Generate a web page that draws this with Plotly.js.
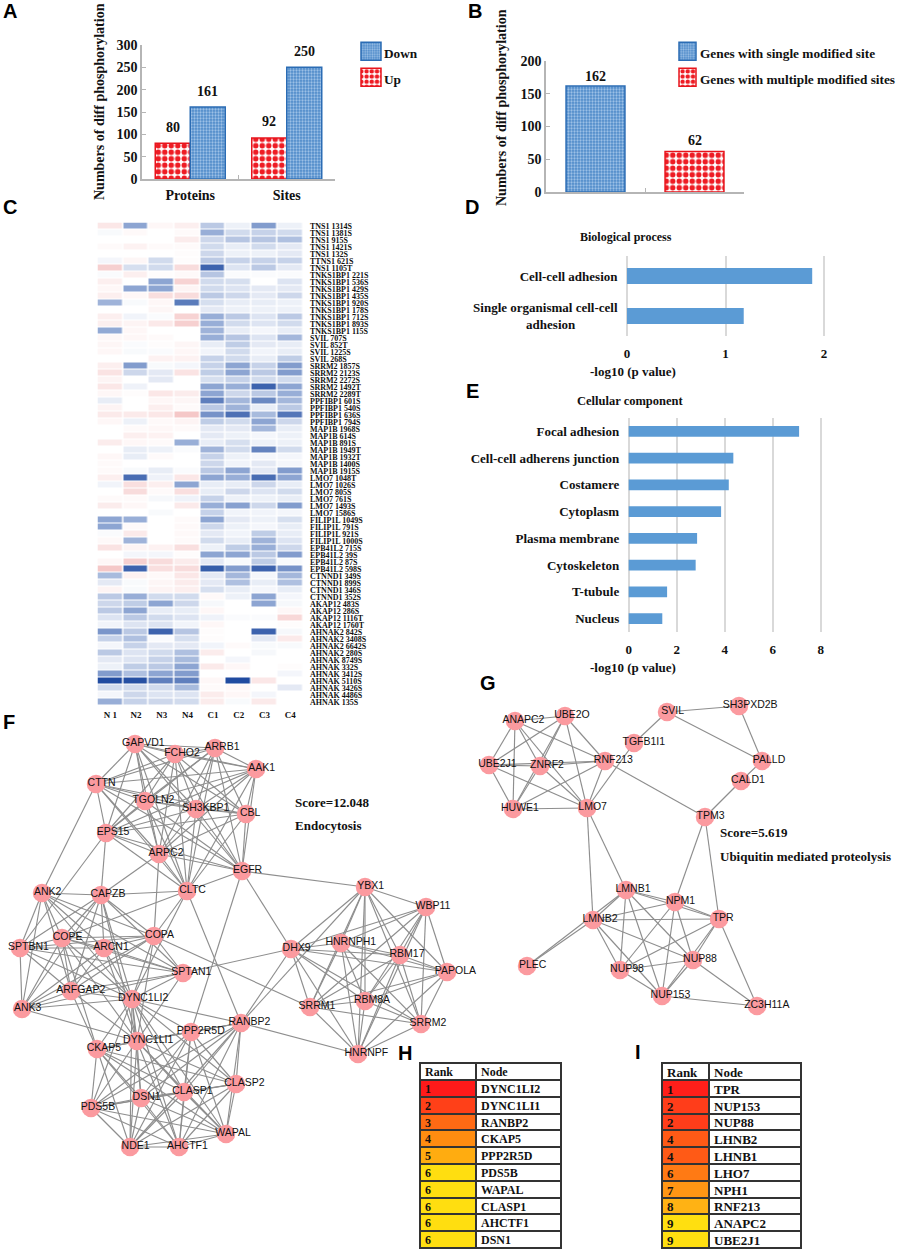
<!DOCTYPE html>
<html><head><meta charset="utf-8">
<script src="https://cdn.plot.ly/plotly-3.0.1.min.js"></script>
<style>html,body{margin:0;padding:0;background:#fff}.cell-text{transform:translate(-3px,-4px)}</style></head>
<body><div id="chart" style="width:899px;height:1256px"></div>
<script>
const W=899,H=1256;
// ---------- Panel A / B
const aCategories=['Proteins','Sites'];
const aUp=[80,92];
const aDown=[161,250];
const bCategories=['Single','Multiple'];
const bSingle=[162];
const bMultiple=[62];
// ---------- Panel D / E
const dTerms=['Cell-cell adhesion','Single organismal cell-cell<br>adhesion\u00A0\u00A0\u00A0\u00A0\u00A0\u00A0\u00A0\u00A0\u00A0\u00A0\u00A0\u00A0\u00A0'];
const dValues=[1.88,1.185];
const eTerms=['Focal adhesion','Cell-cell adherens junction','Costamere','Cytoplasm','Plasma membrane','Cytoskeleton','T-tubule','Nucleus'];
const eValues=[7.1,4.36,4.17,3.85,2.85,2.79,1.6,1.4];
// ---------- Panel C
const heatColumns=['N 1','N2','N3','N4','C1','C2','C3','C4'];
const heatRows=['TNS1 1314S','TNS1 1381S','TNS1 915S','TNS1 1421S','TNS1 132S','TTNS1 621S','TNS1 1105T','TNKS1BP1 221S','TNKS1BP1 536S','TNKS1BP1 429S','TNKS1BP1 435S','TNKS1BP1 920S','TNKS1BP1 178S','TNKS1BP1 712S','TNKS1BP1 893S','TNKS1BP1 115S','SVIL 707S','SVIL 852T','SVIL 1225S','SVIL 268S','SRRM2 1857S','SRRM2 2123S','SRRM2 2272S','SRRM2 1492T','SRRM2 2289T','PPFIBP1 601S','PPFIBP1 540S','PPFIBP1 636S','PPFIBP1 794S','MAP1B 1968S','MAP1B 614S','MAP1B 891S','MAP1B 1949T','MAP1B 1932T','MAP1B 1400S','MAP1B 1915S','LMO7 1048T','LMO7 1026S','LMO7 805S','LMO7 761S','LMO7 1493S','LMO7 1586S','FILIP1L 1049S','FILIP1L 791S','FILIP1L 921S','FILIP1L 1000S','EPB41L2 715S','EPB41L2 39S','EPB41L2 87S','EPB41L2 598S','CTNND1 349S','CTNND1 899S','CTNND1 346S','CTNND1 352S','AKAP12 483S','AKAP12 286S','AKAP12 1116T','AKAP12 1760T','AHNAK2 842S','AHNAK2 3408S','AHNAK2 6642S','AHNAK2 280S','AHNAK 8749S','AHNAK 332S','AHNAK 3412S','AHNAK 5110S','AHNAK 3426S','AHNAK 4486S','AHNAK 135S'];
const heatValues=[
[0.15,-0.5,0.05,0.1,-0.3,-0.08,-0.55,-0.08],
[-0.03,0.04,0,0.03,-0.45,-0.2,-0.25,-0.2],
[0,0,0,0.12,-0.22,-0.32,-0.32,-0.35],
[0.03,0.08,0.03,0.03,-0.2,-0.1,-0.2,-0.12],
[0,0,0,0.02,-0.22,-0.08,-0.08,-0.12],
[-0.05,0.06,-0.2,0.02,-0.3,-0.25,-0.25,-0.25],
[0.3,-0.18,-0.2,0.22,-0.85,-0.15,-0.3,-0.12],
[-0.02,0.1,0.02,0.04,-0.32,-0.02,-0.02,-0.02],
[0.1,0,-0.5,0.28,-0.2,-0.18,0,-0.15],
[0.05,-0.5,-0.5,0.07,-0.2,-0.15,-0.12,-0.12],
[0.1,0.05,0.2,0.22,-0.3,-0.22,-0.12,-0.22],
[-0.42,-0.03,0.05,-0.72,-0.18,-0.1,-0.1,-0.08],
[0,0,0.06,0,-0.12,-0.08,-0.08,-0.08],
[0.1,-0.06,-0.02,0.28,-0.45,-0.3,-0.15,-0.3],
[0.1,0.07,0.14,0.3,-0.45,-0.2,-0.15,-0.2],
[-0.48,0.05,0,0,-0.42,-0.1,-0.05,-0.1],
[0.05,0.05,0.03,0,-0.45,-0.32,-0.15,-0.4],
[0.06,-0.02,0.02,0.06,-0.1,-0.28,-0.12,-0.1],
[0.05,-0.03,-0.02,0.05,-0.06,-0.2,-0.06,-0.1],
[0,0,0.08,0.08,-0.25,-0.2,-0.1,-0.28],
[0.1,-0.55,-0.03,-0.05,-0.25,-0.5,-0.25,-0.55],
[0.18,-0.22,-0.12,0.18,-0.28,-0.5,-0.3,-0.55],
[0.07,0,-0.12,0,-0.18,-0.25,-0.2,-0.2],
[0.15,-0.07,0,0,-0.5,-0.45,-0.85,-0.5],
[0.05,0.02,0.15,0.12,-0.5,-0.22,-0.3,-0.45],
[-0.1,0,0.05,0.06,-0.7,-0.4,-0.65,-0.4],
[0.07,0,0.1,0.03,-0.3,-0.42,-0.1,-0.3],
[0.13,0.13,0.15,0.35,-0.6,-0.78,-0.38,-0.75],
[0.05,-0.08,0.04,0.07,-0.28,-0.2,-0.5,-0.22],
[0,0.03,0.05,0.03,-0.12,-0.12,-0.4,-0.1],
[0,0.1,0.08,0,-0.12,-0.08,-0.05,-0.08],
[0.12,0.05,0.03,-0.45,-0.1,-0.18,-0.08,-0.08],
[0,-0.1,-0.08,-0.02,-0.42,-0.2,-0.68,-0.2],
[0.05,-0.1,0.03,0,-0.25,-0.08,-0.05,-0.05],
[0.03,0,0,0,-0.22,-0.06,-0.12,-0.05],
[0.03,-0.03,-0.1,-0.02,-0.3,-0.5,-0.12,-0.55],
[0.1,-0.8,-0.07,0.15,-0.5,-0.45,-0.8,-0.5],
[-0.06,0.2,0.1,-0.5,-0.1,-0.1,-0.22,-0.1],
[0,0.22,0.03,0.2,-0.1,-0.22,-0.15,-0.2],
[0.03,0.03,-0.04,-0.07,-0.25,-0.08,-0.08,-0.1],
[0.12,0.05,0,0.13,-0.45,-0.52,-0.22,-0.55],
[0,0,-0.03,0,-0.25,-0.06,-0.06,-0.05],
[-0.5,-0.45,0,0.03,-0.5,-0.12,-0.08,-0.18],
[-0.5,0.03,0,0.04,-0.22,-0.08,-0.05,-0.1],
[-0.02,0.13,0,0.04,-0.12,-0.06,-0.28,-0.1],
[0.04,-0.42,0,0.03,-0.2,-0.1,-0.42,-0.15],
[0.18,0.07,0.08,0.2,-0.08,-0.28,-0.45,-0.22],
[0,-0.05,-0.05,0.02,-0.5,-0.5,-0.3,-0.55],
[0.05,0.3,0.22,0.12,-0.12,-0.03,-0.28,-0.03],
[0.35,-0.85,0.2,0.22,-0.88,-0.55,-0.85,-0.6],
[-0.38,0.08,0.04,0.15,-0.12,-0.4,-0.05,-0.4],
[-0.12,-0.03,0.06,0.12,-0.12,-0.35,-0.1,-0.35],
[0.07,-0.03,0.07,0.1,-0.18,-0.1,-0.05,-0.1],
[-0.3,-0.45,-0.2,-0.2,0.04,-0.08,-0.5,-0.05],
[-0.22,-0.28,-0.5,-0.22,-0.04,0,-0.5,-0.04],
[-0.3,-0.5,-0.1,-0.1,0.05,0,0,0.05],
[-0.15,-0.3,-0.2,-0.15,-0.07,-0.02,-0.02,0.25],
[-0.06,-0.15,-0.15,-0.06,0.05,0,0,0.02],
[-0.58,-0.3,-0.85,-0.32,0.02,0,-0.85,-0.04],
[-0.25,-0.35,-0.02,-0.18,0.02,0,-0.12,0.13],
[-0.05,-0.25,-0.12,-0.12,-0.06,0.03,-0.03,-0.03],
[-0.3,-0.15,-0.2,-0.35,0.12,0,-0.04,0],
[-0.12,-0.15,-0.25,-0.38,0,-0.05,0,0],
[-0.08,-0.28,-0.3,-0.5,0.13,0.05,0,0.02],
[-0.55,-0.35,-0.5,-0.55,0,0,0,-0.05],
[-0.98,-0.95,-0.7,-0.7,0.05,-0.98,0.15,0],
[-0.2,-0.2,-0.2,-0.38,0.03,0.05,0,-0.12],
[-0.05,-0.22,-0.15,-0.15,0.12,0.05,-0.05,0],
[-0.45,-0.25,-0.22,-0.2,0.12,-0.03,0.13,0]
];
// ---------- Panel F network
const fNames=['GAPVD1','FCHO2','ARRB1','AAK1','CTTN','TGOLN2','SH3KBP1','CBL','EPS15','ARPC2','EGFR','CLTC','ANK2','CAPZB','COPE','COPA','ARCN1','SPTBN1','SPTAN1','ARFGAP2','DYNC1LI2','ANK3','PPP2R5D','RANBP2','DYNC1LI1','CKAP5','CLASP2','CLASP1','DSN1','PDS5B','WAPAL','AHCTF1','NDE1','YBX1','WBP11','DHX9','HNRNPH1','RBM17','PAPOLA','RBM8A','SRRM1','SRRM2','HNRNPF'];
const fX=[135,175,215,256,96,145,196,246,106,159,242,187,42,101,62,154,104,20,183,71,132,22,191,241,137,97,236,184,141,91,226,179,130,365,426,291,341,400,447,365,310,421,358];
const fY=[744,754,748,769,784,801,809,814,833,854,871,891,893,895,938,936,948,948,973,991,999,1009,1032,1023,1041,1049,1084,1092,1098,1108,1134,1147,1147,887,907,949,943,955,972,1001,1007,1024,1054];
const fGroups=[
['GAPVD1','FCHO2','ARRB1','AAK1','CTTN','TGOLN2','SH3KBP1','CBL','EPS15','ARPC2','EGFR','CLTC'],
['ANK2','CAPZB','COPE','COPA','ARCN1','SPTBN1','SPTAN1','ARFGAP2','DYNC1LI2','ANK3'],
['DYNC1LI2','DYNC1LI1','PPP2R5D','RANBP2','CKAP5','CLASP2','CLASP1','DSN1','PDS5B','WAPAL','AHCTF1','NDE1'],
['YBX1','WBP11','DHX9','HNRNPH1','RBM17','PAPOLA','RBM8A','SRRM1','SRRM2','HNRNPF']
];
const fExtra=[['CTTN','ANK2'],['EPS15','CAPZB'],['EPS15','SPTBN1'],['ARPC2','CAPZB'],['ARPC2','COPA'],['CLTC','COPE'],['CLTC','COPA'],['CLTC','CAPZB'],['CLTC','DYNC1LI2'],['CLTC','RANBP2'],['EGFR','YBX1'],['EGFR','DHX9'],['EGFR','PPP2R5D'],['COPA','SRRM1'],['SPTAN1','DHX9'],['DHX9','RANBP2'],['RANBP2','HNRNPF'],['YBX1','RANBP2'],['ANK3','DYNC1LI1'],['COPE','DYNC1LI1'],['ARCN1','DYNC1LI1'],['COPA','DYNC1LI1'],['SPTAN1','DYNC1LI1'],['ARFGAP2','DYNC1LI1'],['CAPZB','DYNC1LI1'],['ARFGAP2','CKAP5'],['COPE','CKAP5']];
// ---------- Panel G network
const gNames=['ANAPC2','UBE2O','SVIL','SH3PXD2B','TGFB1I1','UBE2J1','ZNRF2','RNF213','PALLD','CALD1','HUWE1','LMO7','TPM3','LMNB1','NPM1','TPR','LMNB2','NUP88','NUP98','PLEC','NUP153','ZC3H11A'];
const gX=[515,565,667,739,634,489,540,605,762,741,513,587,705,626,675,719,593,693,620,527,662,757];
const gY=[721,716,712,706,743,765,766,761,761,781,809,808,817,890,902,919,920,960,970,966,996,1006];
const gGroups=[
['ANAPC2','UBE2O','UBE2J1','ZNRF2','RNF213','HUWE1','LMO7'],
['LMNB1','NPM1','TPR','LMNB2','NUP88','NUP98','NUP153']
];
const gExtra=[['TGFB1I1','SVIL'],['TGFB1I1','LMO7'],['SVIL','SH3PXD2B'],['SVIL','PALLD'],['SH3PXD2B','PALLD'],['PALLD','CALD1'],['CALD1','TPM3'],['RNF213','TPM3'],['TPM3','NPM1'],['TPM3','TPR'],['LMO7','LMNB1'],['LMO7','LMNB2'],['LMNB2','PLEC'],['LMNB1','PLEC'],['TPR','ZC3H11A'],['NUP88','ZC3H11A'],['NUP153','ZC3H11A']];
// ---------- Panel H / I tables
const hRanks=['1','2','3','4','5','6','6','6','6','6'];
const hNodes=['DYNC1LI2','DYNC1LI1','RANBP2','CKAP5','PPP2R5D','PDS5B','WAPAL','CLASP1','AHCTF1','DSN1'];
const hColors=['#ff1a1a','#ff4018','#ff6a14','#ff8c10','#ffac10','#ffde10','#ffde10','#ffde10','#ffde10','#ffde10'];
const iRanks=['1','2','2','4','4','6','7','8','9','9'];
const iNodes=['TPR','NUP153','NUP88','LHNB2','LHNB1','LHO7','NPH1','RNF213','ANAPC2','UBE2J1'];
const iColors=['#ff1f1a','#ff3d1a','#ff3d1a','#ff5a16','#ff5a16','#ff7a14','#ff9614','#ffb214','#ffdf10','#ffdf10'];

// ---------- helpers
const SERIF='Liberation Serif',SANS='Liberation Sans';
const bf=(s,c)=>({family:SERIF,size:s,color:c||'#111',weight:700});
const dx=(a,b)=>[a/W,b/W];
const dy=(a,b)=>[1-b/H,1-a/H];
const px=v=>v/W, py=v=>1-v/H;
const blueFill={color:'#5e97d2',line:{color:'#2b6cb4',width:1.5},pattern:{shape:'.',fgcolor:'#9cc0e6',bgcolor:'#4f8bca',size:3,solidity:0.45}};
const redFill={color:'#fff',line:{color:'#e8141c',width:1.5},pattern:{shape:'.',fgcolor:'#ee1c24',bgcolor:'#ffffff',size:6.5,solidity:0.55}};
const notes=[];
function note(x,y,text,font,extra){notes.push(Object.assign({xref:'paper',yref:'paper',x:px(x),y:py(y),text,font,showarrow:false,xanchor:'center',yanchor:'middle'},extra||{}));}
function expand(names,xs,ys,groups,extra){
  const pairs=[];const seen=new Set();
  const add=(a,b)=>{const k=[a,b].sort().join('|');if(!seen.has(k)){seen.add(k);pairs.push([a,b]);}};
  groups.forEach(g=>g.forEach((a,i)=>g.slice(i+1).forEach(b=>add(a,b))));
  extra.forEach(p=>add(p[0],p[1]));
  const ex=[],ey=[];
  pairs.forEach(([a,b])=>{const i=names.indexOf(a),j=names.indexOf(b);ex.push(xs[i],xs[j],null);ey.push(ys[i],ys[j],null);});
  return {ex,ey};
}
function networkTraces(names,xs,ys,groups,extra,xa,ya){
  const {ex,ey}=expand(names,xs,ys,groups,extra);
  return [
   {type:'scatter',mode:'lines',x:ex,y:ey,xaxis:xa,yaxis:ya,line:{color:'#8e8e8e',width:1.15},hoverinfo:'skip',showlegend:false},
   {type:'scatter',mode:'markers',x:xs,y:ys,xaxis:xa,yaxis:ya,marker:{size:18.5,color:'#fb9a9f'},hoverinfo:'skip',showlegend:false},
   {type:'scatter',mode:'text',x:xs.map((v,i)=>v+1.4*names[i].length),y:ys.map(v=>v-1),text:names,xaxis:xa,yaxis:ya,textposition:'middle center',textfont:{family:SANS,size:10.5,color:'#111'},hoverinfo:'skip',showlegend:false}
  ];
}
// ---------- traces
const barA=35/96.5;
const traces=[
 {type:'bar',name:'Up',x:aCategories,y:aUp,xaxis:'x',yaxis:'y',width:barA,offset:-barA,marker:redFill,legend:'legend2'},
 {type:'bar',name:'Down',x:aCategories,y:aDown,xaxis:'x',yaxis:'y',width:barA,offset:0,marker:blueFill,legend:'legend'},
 {type:'bar',name:'Genes with single modified site',x:[bCategories[0]],y:bSingle,xaxis:'x2',yaxis:'y2',width:0.595,marker:blueFill,legend:'legend3'},
 {type:'bar',name:'Genes with multiple modified sites',x:[bCategories[1]],y:bMultiple,xaxis:'x2',yaxis:'y2',width:0.595,marker:redFill,legend:'legend4'},
 {type:'heatmap',x:heatColumns,y:heatRows,z:heatValues,xaxis:'x3',yaxis:'y3',zmin:-1,zmax:1,xgap:1.5,ygap:1,showscale:false,
  colorscale:[[0,'#1b479e'],[0.25,'#8da5d2'],[0.5,'#ffffff'],[0.75,'#f0b0b0'],[1,'#dc4848']],hoverinfo:'skip'},
 {type:'bar',orientation:'h',x:dValues,y:dTerms,xaxis:'x4',yaxis:'y4',width:0.4,marker:{color:'#5b9bd5'},showlegend:false},
 {type:'bar',orientation:'h',x:eValues,y:eTerms,xaxis:'x5',yaxis:'y5',width:0.4,marker:{color:'#5b9bd5'},showlegend:false},
 ...networkTraces(fNames,fX,fY,fGroups,fExtra,'x6','y6'),
 ...networkTraces(gNames,gX,gY,gGroups,gExtra,'x7','y7')
];
function tableTrace(ranks,nodes,colors,x0,x1,split,size){
  return {type:'table',domain:{x:dx(x0,x1),y:dy(1063,1251)},columnwidth:[split-x0,x1-split],
   header:{values:['Rank','Node'],height:17,align:'left',font:bf(size),fill:{color:'#fff'},line:{color:'#333',width:2}},
   cells:{values:[ranks,nodes],height:16.8,align:'left',font:bf(size),fill:{color:[colors,nodes.map(()=>'#fff')]},line:{color:'#333',width:2}}};
}
traces.push(tableTrace(hRanks,hNodes,hColors,420,561,476,12));
traces.push(tableTrace(iRanks,iNodes,iColors,662,801,709,13));

// ---------- value labels, panel letters, titles
aCategories.forEach((c,i)=>{
  notes.push({xref:'x',yref:'y',x:c,y:aUp[i],xshift:-17.5,yshift:16,text:String(aUp[i]),font:bf(14),showarrow:false,yanchor:'middle'});
  notes.push({xref:'x',yref:'y',x:c,y:aDown[i],xshift:17.5,yshift:16,text:String(aDown[i]),font:bf(14),showarrow:false,yanchor:'middle'});
});
notes.push({xref:'x2',yref:'y2',x:bCategories[0],y:bSingle[0],yshift:9,text:String(bSingle[0]),font:bf(14),showarrow:false,yanchor:'middle'});
notes.push({xref:'x2',yref:'y2',x:bCategories[1],y:bMultiple[0],yshift:11,text:String(bMultiple[0]),font:bf(14),showarrow:false,yanchor:'middle'});
const letterFont={family:SANS,size:20,color:'#000',weight:700};
[['A',10,11],['B',475,11],['C',10,207],['D',472,207],['E',472,391],['F',9,722],['G',488,683],['H',405,1053],['I',638,1052]].forEach(l=>note(l[1],l[2],l[0],letterFont));
note(99,102,'Numbers of diff phosphorylation',bf(14),{textangle:-90});
note(502,107,'Numbers of diff phosphorylation',bf(14),{textangle:-90});
note(626,237,'Biological process',bf(12));
note(633,371,'-log10 (p value)',bf(13));
note(630,401,'Cellular component',bf(12.5));
note(633,667,'-log10 (p value)',bf(13));
note(293,802,'Score=12.048',bf(13),{xanchor:'left'});
note(293,825,'Endocytosis',bf(13),{xanchor:'left'});
note(718,832,'Score=5.619',bf(13),{xanchor:'left'});
note(718,856,'Ubiquitin mediated proteolysis',bf(13),{xanchor:'left'});

// ---------- axes
const hidden={visible:false,showgrid:false,zeroline:false};
const greyLine={showline:true,linecolor:'#b5b5b5',linewidth:1.5,tickcolor:'#b5b5b5',ticklen:4,tickwidth:1.2,ticks:'inside',showgrid:false,zeroline:false};
const termsY={type:'category',autorange:'reversed',showline:false,showgrid:false,zeroline:false,ticks:'',tickfont:bf(13),ticklabelstandoff:7};
const valueX={showline:false,zeroline:false,showgrid:true,gridcolor:'#d9d9d9',gridwidth:1.5,ticks:'',tickfont:bf(13),ticklabelstandoff:8};
const leg=(x,y)=>({x:x/W,y:py(y),xanchor:'left',yanchor:'top',xref:'paper',yref:'paper',font:bf(13.3),bgcolor:'rgba(0,0,0,0)',itemwidth:30,itemclick:false,itemdoubleclick:false});
const layout={
 width:W,height:H,margin:{l:0,r:0,t:0,b:0,pad:0,autoexpand:false},paper_bgcolor:'#fff',plot_bgcolor:'rgba(0,0,0,0)',barmode:'overlay',showlegend:true,hovermode:false,
 legend:leg(344,38),legend2:leg(344,64),legend3:leg(660,38),legend4:leg(660,64),
 xaxis:Object.assign({},greyLine,{domain:dx(142,335),anchor:'y',type:'category',categoryorder:'array',categoryarray:aCategories,tickson:'boundaries',tickfont:bf(14),ticklabelstandoff:2}),
 yaxis:Object.assign({},greyLine,{domain:dy(45,179),anchor:'x',range:[0,300],tickmode:'array',tickvals:[0,50,100,150,200,250,300],tickfont:bf(14)}),
 xaxis2:Object.assign({},greyLine,{domain:dx(546,744),anchor:'y2',type:'category',categoryarray:bCategories,categoryorder:'array',tickson:'boundaries',showticklabels:false}),
 yaxis2:Object.assign({},greyLine,{domain:dy(61,192),anchor:'x2',range:[0,200],tickmode:'array',tickvals:[0,50,100,150,200],tickfont:bf(14)}),
 xaxis3:{domain:dx(97.5,303),anchor:'y3',type:'category',tickfont:bf(9),ticks:'',showgrid:false,zeroline:false,ticklabelstandoff:2},
 yaxis3:{domain:dy(222.5,705.5),anchor:'x3',type:'category',autorange:'reversed',side:'right',tickmode:'linear',tick0:0,dtick:1,tickfont:bf(8),ticks:'',showgrid:false,zeroline:false,ticklabelstandoff:6},
 xaxis4:Object.assign({},valueX,{domain:dx(625.5,825.5),anchor:'y4',range:[-0.015,2.015],tickmode:'array',tickvals:[0,1,2]}),
 yaxis4:Object.assign({},termsY,{domain:dy(256,336),anchor:'x4'}),
 xaxis5:Object.assign({},valueX,{domain:dx(627.2,822.2),anchor:'y5',range:[-0.0625,8.0625],tickmode:'array',tickvals:[0,2,4,6,8]}),
 yaxis5:Object.assign({},termsY,{domain:dy(418,632),anchor:'x5'}),
 xaxis6:Object.assign({},hidden,{domain:dx(0,480),anchor:'y6',range:[0,480]}),
 yaxis6:Object.assign({},hidden,{domain:dy(715,1180),anchor:'x6',range:[1180,715]}),
 xaxis7:Object.assign({},hidden,{domain:dx(470,899),anchor:'y7',range:[470,899]}),
 yaxis7:Object.assign({},hidden,{domain:dy(680,1030),anchor:'x7',range:[1030,680]}),
 annotations:notes
};
Plotly.newPlot('chart',traces,layout,{displayModeBar:false,staticPlot:false,responsive:false}).then(gd=>{
  // legend swatches sized and placed as in the reference
  gd.querySelectorAll('.legend,.legend2,.legend3,.legend4').forEach(l=>{
    const d=(l.classList.contains('legend3')||l.classList.contains('legend4'))?'M16,7H-1V-11H16Z':'M17,7H-3V-11H17Z';
    l.querySelectorAll('.legendpoints path').forEach(p=>p.setAttribute('d',d));
    const box=l.querySelector('.scrollbox'); if(box) box.removeAttribute('clip-path');
    l.removeAttribute('clip-path');
  });
});
</script></body></html>
